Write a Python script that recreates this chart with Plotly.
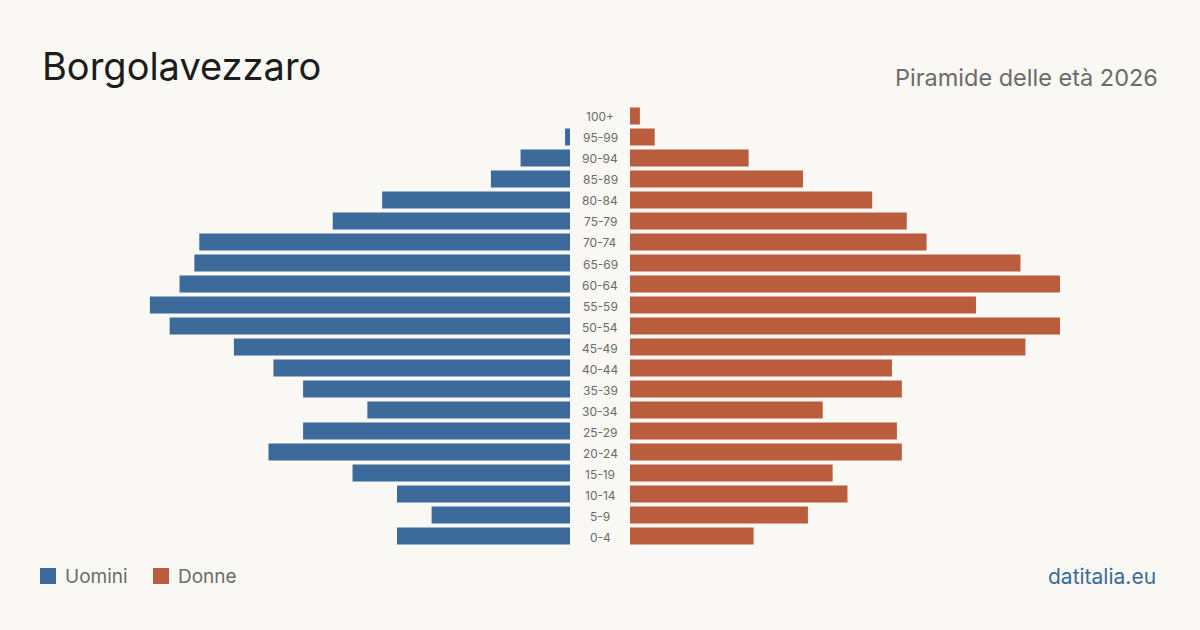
import plotly.graph_objects as go

age_groups = ["0-4", "5-9", "10-14", "15-19", "20-24", "25-29", "30-34", "35-39",
              "40-44", "45-49", "50-54", "55-59", "60-64", "65-69", "70-74", "75-79",
              "80-84", "85-89", "90-94", "95-99", "100+"]
men = [35, 28, 35, 44, 61, 54, 41, 54, 60, 68, 81, 85, 79, 76, 75, 48, 38, 16, 10, 1, 0]
women = [25, 36, 44, 41, 55, 54, 39, 55, 53, 80, 87, 70, 87, 79, 60, 56, 49, 35, 24, 5, 2]

title = "Borgolavezzaro"
subtitle = "Piramide delle età 2026"
source = "datitalia.eu"
men_label = "Uomini"
women_label = "Donne"

BLUE = "#3b6a9b"
RED = "#b95d3d"
BG = "#f9f8f4"
GRAY = "#6b6b6b"

W, H = 1200, 630
xmax = max(max(men), max(women))
idx = list(range(len(age_groups)))

fig = go.Figure()
fig.add_trace(go.Bar(y=idx, x=men, orientation="h", marker=dict(color=BLUE, line_width=0),
                     xaxis="x", yaxis="y", name=men_label, showlegend=False,
                     hoverinfo="x+text", text=age_groups, textposition="none"))
fig.add_trace(go.Bar(y=idx, x=women, orientation="h", marker=dict(color=RED, line_width=0),
                     xaxis="x2", yaxis="y", name=women_label, showlegend=False,
                     hoverinfo="x+text", text=age_groups, textposition="none"))

ydom = [83.5 / H, 524.5 / H]
fig.update_layout(
    width=W, height=H,
    paper_bgcolor=BG, plot_bgcolor=BG,
    margin=dict(l=0, r=0, t=0, b=0),
    bargap=0.2,
    xaxis=dict(domain=[140 / W, 570 / W], range=[xmax, 0], visible=False, fixedrange=True),
    xaxis2=dict(domain=[630 / W, 1060 / W], range=[0, xmax], visible=False, fixedrange=True),
    yaxis=dict(domain=ydom, range=[-0.5, len(age_groups) - 0.5], visible=False, fixedrange=True),
    font=dict(family="Inter, sans-serif"),
)

annotations = []
for i, lab in enumerate(age_groups):
    annotations.append(dict(x=600 / W, xref="paper", y=i, yref="y", text=lab,
                            showarrow=False, xanchor="center", yanchor="middle",
                            yshift=-1, font=dict(size=12, color=GRAY)))

annotations += [
    dict(x=40 / W, y=1 - 66 / H, xref="paper", yref="paper", text=title, showarrow=False,
         xanchor="left", yanchor="middle", font=dict(size=38, color="#1c1c1c")),
    dict(x=1160 / W, y=1 - 77 / H, xref="paper", yref="paper", text=subtitle, showarrow=False,
         xanchor="right", yanchor="middle", font=dict(size=23.5, color=GRAY)),
    dict(x=1158 / W, y=1 - 576 / H, xref="paper", yref="paper", text=source, showarrow=False,
         xanchor="right", yanchor="middle", font=dict(size=21, color=BLUE)),
    dict(x=63 / W, y=1 - 576 / H, xref="paper", yref="paper", text=men_label, showarrow=False,
         xanchor="left", yanchor="middle", font=dict(size=19, color=GRAY)),
    dict(x=176 / W, y=1 - 576 / H, xref="paper", yref="paper", text=women_label, showarrow=False,
         xanchor="left", yanchor="middle", font=dict(size=19, color=GRAY)),
]

shapes = [
    dict(type="rect", xref="paper", yref="paper", x0=40 / W, x1=56 / W,
         y0=1 - 584 / H, y1=1 - 568 / H, fillcolor=BLUE, line_width=0),
    dict(type="rect", xref="paper", yref="paper", x0=153 / W, x1=169 / W,
         y0=1 - 584 / H, y1=1 - 568 / H, fillcolor=RED, line_width=0),
]
fig.update_layout(annotations=annotations, shapes=shapes)

fig.write_html("out.html", config={"displayModeBar": False})
